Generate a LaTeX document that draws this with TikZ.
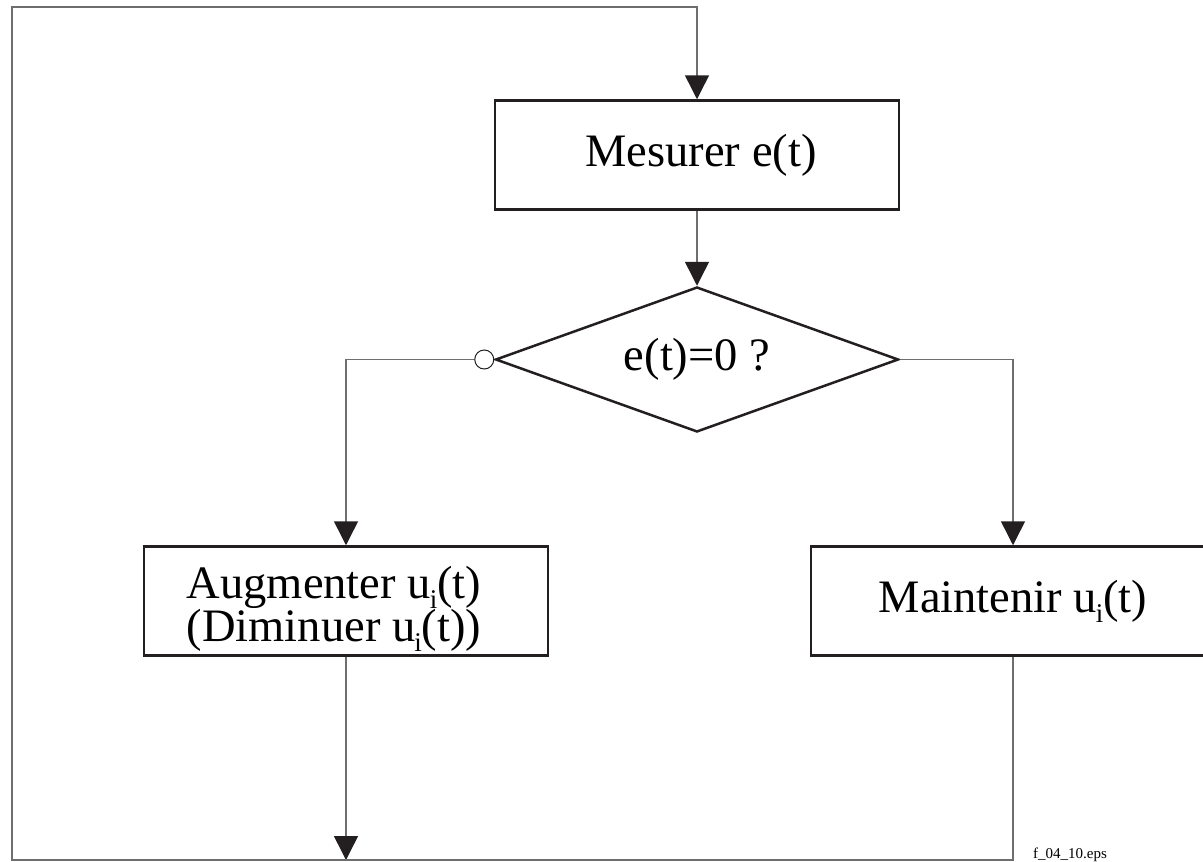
\documentclass[tikz,border=0pt]{standalone}
\usepackage{fontspec}
\setmainfont{Liberation Serif}
\usetikzlibrary{arrows.meta,shapes.geometric}
\definecolor{dark}{RGB}{35,31,32}
\definecolor{lgray}{RGB}{110,110,110}
\newcommand{\bigfnt}{\fontsize{46.5}{43}\selectfont\lineskiplimit=-100pt\relax}
\tikzset{
  bigtext/.style={font={\bigfnt}},
  procbox/.style={draw=dark, line width=2.5pt, rectangle, minimum width=404pt, minimum height=109pt, inner sep=0pt, align=center, bigtext},
  boxtext/.style={inner sep=0pt, align=center, bigtext},
  decbox/.style={draw=dark, line width=2.5pt, diamond, aspect=2.78, minimum width=403pt, minimum height=145pt, inner sep=0pt, bigtext},
  conn/.style={draw=lgray, line width=1.5pt},
  arr/.style={conn, -{Triangle[width=24pt,length=24pt,color=dark,fill=dark]}},
  ringnode/.style={draw=dark, line width=1pt, circle, fill=white, minimum size=19pt, inner sep=0pt},
  smalllabel/.style={font=\fontsize{15}{15}\selectfont, inner sep=0pt, anchor=base west}
}
\newcommand{\usub}{\kern-1pt\raisebox{-10pt}{\fontsize{27}{27}\selectfont i}}
\begin{document}
\begin{tikzpicture}[x=1pt,y=-1pt]
\useasboundingbox (0,0) rectangle (1203,862);
\clip (0,0) rectangle (1203,862);
\node[procbox] (mes) at (697,155) {\hspace*{8pt}Mesurer e(t)};
\node[decbox] (dec) at (697,359.5) {e(t)=0 ?};
\node[procbox] (aug) at (346,601) {};
\node[boxtext] (augt) at ([xshift=-12pt,yshift=-8pt]aug.center) {Augmenter u\usub(t)\\(Diminuer u\usub(t))};
\node[procbox] (maint) at (1013,601) {Maintenir u\usub(t)};
\node[ringnode] (ring) at ([xshift=-10pt]dec.west) {};
\coordinate (bl) at (12,860);
\coordinate (tl) at (12,7);
\node[smalllabel] (lab) at (1033,858) {f\_04\_10.eps};
\draw[arr] (mes.south) -- (dec.north);
\draw[arr] (ring.west) -| (aug.north);
\draw[arr] (dec.east) -| (maint.north);
\draw[arr] (aug.south) -- (aug.south |- bl);
\draw[arr] (maint.south) |- (bl) -- (tl) -| (mes.north);
\end{tikzpicture}
\end{document}
